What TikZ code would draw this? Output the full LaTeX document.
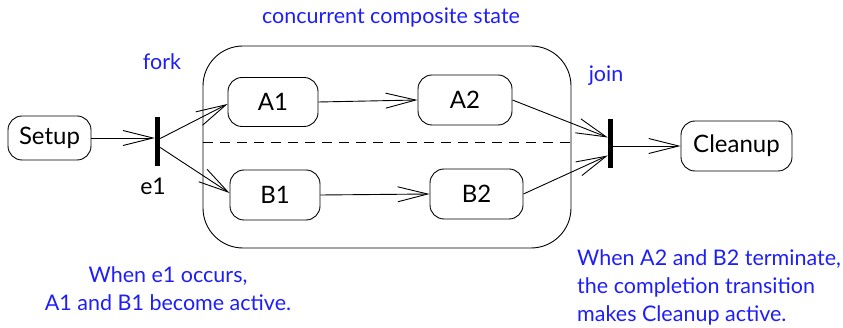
\documentclass[tikz,border=0pt]{standalone}
\usepackage{fontspec}
\setmainfont{Lato}
\newfontfamily\notefont{Lato}
\usetikzlibrary{arrows.meta}
\definecolor{noteblue}{RGB}{30,30,250}
\tikzset{
  statebox/.style={draw, line width=0.9pt, rounded corners=14pt, font=\fontsize{24}{27}\selectfont, inner sep=0pt},
  bar/.style={fill=black, draw=none, minimum width=5pt, minimum height=49pt, inner sep=0pt},
  trans/.style={line width=0.9pt, -{Straight Barb[line width=0.9pt, length=30pt, width=15pt]}},
  note/.style={text=noteblue, font=\notefont\fontsize{21.5}{28}\selectfont, inner sep=0pt},
  lbl/.style={font=\fontsize{23}{26}\selectfont, inner sep=0pt}
}
\begin{document}
\begin{tikzpicture}[x=1pt,y=-1pt]
\useasboundingbox (0,0) rectangle (843,328);
% composite state
\node[draw, line width=0.9pt, rounded corners=40pt, minimum width=368pt, minimum height=202pt, inner sep=0pt] (comp) at (387,147) {};
\node[note] (comptitle) at (391,18) {concurrent composite state};
\draw[dashed, dash pattern=on 10pt off 7pt, line width=0.9pt] (comp.west |- 0,142) coordinate (dl) -- (comp.east |- 0,142) coordinate (dr);
% states
\node[statebox, minimum width=83pt, minimum height=44pt] (setup) at (49.5,138) {Setup};
\node[statebox, minimum width=90pt, minimum height=49pt] (A1) at (273,102) {A1};
\node[statebox, minimum width=94pt, minimum height=50pt] (A2) at (465,100) {A2};
\node[statebox, minimum width=90pt, minimum height=50pt] (B1) at (275,195) {B1};
\node[statebox, minimum width=93pt, minimum height=50pt] (B2) at (476.5,194) {B2};
\node[statebox, minimum width=111pt, minimum height=50pt] (cleanup) at (736.5,146) {Cleanup};
% bars
\node[bar] (fork) at (157.5,141.5) {};
\node[bar] (join) at (610.5,143.5) {};
% labels
\node[lbl] (e1) at (153,186) {e1};
\node[note] (forklbl) at (162,62) {fork};
\node[note] (joinlbl) at (606,76) {join};
% transitions
\draw[trans] (setup.east) -- (fork.west |- setup.east);
\draw[trans] ([yshift=3pt]fork.east) -- ([yshift=-2pt]A1.west);
\draw[trans] ([yshift=-6pt]fork.east) -- ([yshift=2pt]B1.west);
\draw[trans] (A1.east) -- (A2.west);
\draw[trans] (B1.east) -- (B2.west);
\draw[trans] (A2.east) -- ([yshift=6pt]join.west);
\draw[trans] (B2.east) -- ([yshift=-12pt]join.west);
\draw[trans] (join.east |- cleanup.west) -- (cleanup.west);
% notes
\node[note, align=center] (note1) at (168,288.5) {When e1 occurs,\\A1 and B1 become active.};
\node[note, align=left, anchor=west] (note2) at (577,287.5) {When A2 and B2 terminate,\\the completion transition\\makes Cleanup active.};
\end{tikzpicture}
\end{document}
